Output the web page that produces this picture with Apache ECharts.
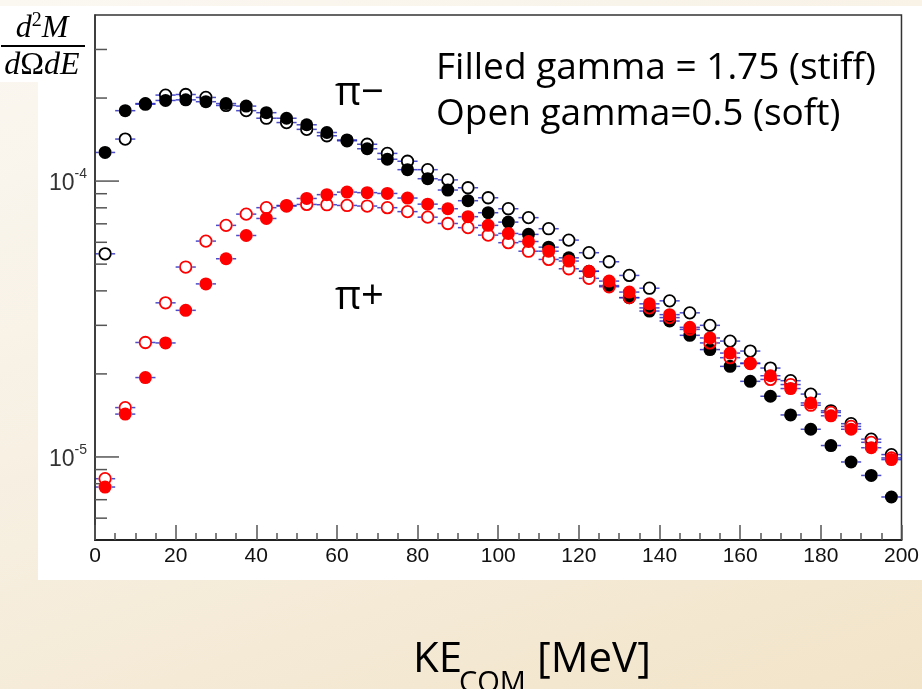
<!DOCTYPE html>
<html>
<head>
<meta charset="utf-8">
<script src="https://cdn.jsdelivr.net/npm/echarts@6.0.0/dist/echarts.min.js"></script>
<style>
  html, body { margin: 0; padding: 0; }
  body {
    width: 922px; height: 689px; overflow: hidden;
    background: linear-gradient(160deg, #fbf8f2 0%, #f7f0e3 45%, #f2e4c9 100%);
  }
  #chart { width: 922px; height: 689px; }
</style>
</head>
<body>
<div id="chart"></div>
<script>
// Kinetic energy bin centres (MeV), bins 5 MeV wide
const energy = [2.5, 7.5, 12.5, 17.5, 22.5, 27.5, 32.5, 37.5, 42.5, 47.5,
  52.5, 57.5, 62.5, 67.5, 72.5, 77.5, 82.5, 87.5, 92.5, 97.5,
  102.5, 107.5, 112.5, 117.5, 122.5, 127.5, 132.5, 137.5, 142.5, 147.5,
  152.5, 157.5, 162.5, 167.5, 172.5, 177.5, 182.5, 187.5, 192.5, 197.5];
const binHalfWidth = 2.5;

// pi- spectra: filled = stiff (gamma 1.75), open = soft (gamma 0.5)
const piMinusStiff = [1.27e-4, 1.80e-4, 1.91e-4, 1.96e-4, 1.97e-4, 1.94e-4, 1.91e-4, 1.87e-4, 1.77e-4, 1.69e-4,
  1.60e-4, 1.50e-4, 1.41e-4, 1.31e-4, 1.20e-4, 1.10e-4, 1.02e-4, 9.28e-5, 8.49e-5, 7.68e-5,
  7.10e-5, 6.41e-5, 5.76e-5, 5.27e-5, 4.71e-5, 4.18e-5, 3.78e-5, 3.38e-5, 3.11e-5, 2.76e-5,
  2.45e-5, 2.13e-5, 1.88e-5, 1.66e-5, 1.42e-5, 1.26e-5, 1.10e-5, 9.59e-6, 8.57e-6, 7.16e-6];
const piMinusSoft = [5.45e-5, 1.42e-4, 1.90e-4, 2.05e-4, 2.06e-4, 2.01e-4, 1.88e-4, 1.80e-4, 1.69e-4, 1.63e-4,
  1.54e-4, 1.46e-4, 1.40e-4, 1.36e-4, 1.26e-4, 1.18e-4, 1.10e-4, 1.01e-4, 9.46e-5, 8.70e-5,
  7.94e-5, 7.37e-5, 6.72e-5, 6.11e-5, 5.50e-5, 5.10e-5, 4.55e-5, 4.09e-5, 3.68e-5, 3.33e-5,
  3.00e-5, 2.63e-5, 2.42e-5, 2.10e-5, 1.89e-5, 1.69e-5, 1.47e-5, 1.32e-5, 1.16e-5, 1.02e-5];

// pi+ spectra
const piPlusStiff = [7.78e-6, 1.43e-5, 1.94e-5, 2.59e-5, 3.40e-5, 4.24e-5, 5.23e-5, 6.35e-5, 7.32e-5, 8.16e-5,
  8.65e-5, 8.93e-5, 9.12e-5, 9.08e-5, 9.02e-5, 8.68e-5, 8.25e-5, 7.94e-5, 7.43e-5, 6.91e-5,
  6.46e-5, 6.04e-5, 5.57e-5, 5.13e-5, 4.71e-5, 4.34e-5, 3.96e-5, 3.59e-5, 3.28e-5, 2.95e-5,
  2.70e-5, 2.38e-5, 2.19e-5, 1.97e-5, 1.77e-5, 1.57e-5, 1.41e-5, 1.26e-5, 1.08e-5, 9.78e-6];
const piPlusSoft = [8.34e-6, 1.51e-5, 2.60e-5, 3.62e-5, 4.88e-5, 6.06e-5, 6.91e-5, 7.59e-5, 8.01e-5, 8.12e-5,
  8.23e-5, 8.21e-5, 8.16e-5, 8.12e-5, 8.01e-5, 7.75e-5, 7.40e-5, 7.02e-5, 6.78e-5, 6.37e-5,
  5.98e-5, 5.57e-5, 5.20e-5, 4.81e-5, 4.44e-5, 4.14e-5, 3.78e-5, 3.47e-5, 3.20e-5, 2.90e-5,
  2.59e-5, 2.29e-5, 2.18e-5, 1.91e-5, 1.83e-5, 1.54e-5, 1.45e-5, 1.29e-5, 1.13e-5, 9.92e-6];

// Axis ranges and log-axis tick positions
const xRange = [0, 200];
const yRange = [5e-6, 4e-4];
const yMajorTicks = [1e-5, 1e-4];
const yMinorTicks = [6e-6, 7e-6, 8e-6, 9e-6,
  2e-5, 3e-5, 4e-5, 5e-5, 6e-5, 7e-5, 8e-5, 9e-5,
  2e-4, 3e-4];

const MARKER = 13;
const pairs = ys => energy.map((e, i) => [e, ys[i]]);

// horizontal bin-width error bars, with a gap where the marker sits
function errorBarSeries(ys) {
  return {
    type: 'custom',
    coordinateSystem: 'cartesian2d',
    z: 2,
    silent: true,
    clip: true,
    data: pairs(ys),
    renderItem: function (params, api) {
      const x = api.value(0), y = api.value(1);
      const l = api.coord([x - binHalfWidth, y]);
      const c = api.coord([x, y]);
      const r = api.coord([x + binHalfWidth, y]);
      const gap = MARKER / 2;
      const st = { stroke: 'rgba(30,30,190,0.8)', lineWidth: 1.5 };
      return {
        type: 'group',
        children: [
          { type: 'line', shape: { x1: l[0], y1: l[1], x2: c[0] - gap, y2: c[1] }, style: st },
          { type: 'line', shape: { x1: c[0] + gap, y1: c[1], x2: r[0], y2: r[1] }, style: st }
        ]
      };
    }
  };
}

// inward ticks on the log axis at 1..9 x 10^n
function tickSeries(values, len) {
  return {
    type: 'custom',
    coordinateSystem: 'cartesian2d',
    z: 1,
    silent: true,
    clip: false,
    data: values.map(v => [xRange[0], v]),
    renderItem: function (params, api) {
      const p = api.coord([api.value(0), api.value(1)]);
      return {
        type: 'line',
        shape: { x1: p[0], y1: p[1], x2: p[0] + len, y2: p[1] },
        style: { stroke: '#555', lineWidth: 1.5 }
      };
    }
  };
}

function markerSeries(ys, color, filled) {
  return {
    type: 'scatter',
    z: 3,
    silent: true,
    symbol: 'circle',
    symbolSize: filled ? MARKER : MARKER - 1.5,
    data: pairs(ys),
    itemStyle: filled
      ? { color: color, opacity: 1 }
      : { color: 'rgba(255,255,255,0)', borderColor: color, borderWidth: 1.8, opacity: 1 }
  };
}

const chart = echarts.init(document.getElementById('chart'), null, { renderer: 'canvas' });

const sansText = '"Open Sans", "Noto Sans", sans-serif';
const serifText = '"Liberation Serif", "DejaVu Serif", serif';
const axisFont = '"Liberation Sans", Arial, sans-serif';

chart.setOption({
  animation: false,
  grid: {
    left: 95, right: 19, top: 15, bottom: 149,
    show: true, backgroundColor: '#ffffff',
    borderColor: '#333', borderWidth: 1.5
  },
  xAxis: {
    type: 'value',
    min: xRange[0], max: xRange[1], interval: 20,
    axisLine: { lineStyle: { color: '#222', width: 2 } },
    axisTick: { inside: true, length: 15, lineStyle: { color: '#555', width: 1.5 } },
    minorTick: { show: true, splitNumber: 4, length: 7, lineStyle: { color: '#555', width: 1.5 } },
    splitLine: { show: false },
    axisLabel: { margin: 6, fontSize: 21, color: '#111', fontFamily: axisFont }
  },
  yAxis: {
    type: 'log', logBase: 10,
    min: yRange[0], max: yRange[1],
    axisLine: { show: true, lineStyle: { color: '#333', width: 1.5 } },
    axisTick: { show: false },
    splitLine: { show: false },
    axisLabel: {
      margin: 8,
      showMinLabel: false, showMaxLabel: false,
      formatter: function (v) {
        const e = Math.log10(v);
        const r = Math.round(e);
        if (Math.abs(e - r) > 1e-6) return '';
        return '{b|10}{s|' + r + '}';
      },
      rich: {
        b: { fontSize: 23, color: '#333', fontFamily: axisFont, lineHeight: 28, verticalAlign: 'bottom' },
        s: { fontSize: 14, color: '#333', fontFamily: axisFont, lineHeight: 15, verticalAlign: 'top' }
      }
    }
  },
  graphic: [
    // white panels behind the plot and the axis title
    { type: 'rect', z: -10, shape: { x: 38, y: 6, width: 884, height: 574 }, style: { fill: '#ffffff' } },
    { type: 'rect', z: -10, shape: { x: 0, y: 6, width: 92, height: 76 }, style: { fill: '#ffffff' } },
    // d^2M / dOmega dE
    {
      type: 'text', z: 100, x: 42, y: 28,
      style: {
        text: '{i|d}{u|2}{i|M}', align: 'center', verticalAlign: 'middle',
        rich: {
          i: { fontSize: 32, fontStyle: 'italic', fontFamily: serifText, fill: '#000', lineHeight: 34, verticalAlign: 'bottom' },
          u: { fontSize: 20, fontFamily: serifText, fill: '#000', lineHeight: 20, verticalAlign: 'top' }
        }
      }
    },
    { type: 'line', z: 100, shape: { x1: 1, y1: 46, x2: 85, y2: 46 }, style: { stroke: '#000', lineWidth: 2 } },
    {
      type: 'text', z: 100, x: 42, y: 66,
      style: {
        text: '{i|d}{r|Ω}{i|dE}', align: 'center', verticalAlign: 'middle',
        rich: {
          i: { fontSize: 32, fontStyle: 'italic', fontFamily: serifText, fill: '#000' },
          r: { fontSize: 32, fontFamily: serifText, fill: '#000' }
        }
      }
    },
    // annotations
    { type: 'text', z: 100, x: 436, y: 68, style: { text: 'Filled gamma = 1.75 (stiff)', font: '37px ' + sansText, fill: '#000', align: 'left', verticalAlign: 'middle' } },
    { type: 'text', z: 100, x: 436, y: 114, style: { text: 'Open gamma=0.5 (soft)', font: '37px ' + sansText, fill: '#000', align: 'left', verticalAlign: 'middle' } },
    { type: 'text', z: 100, x: 335, y: 94, style: { text: 'π−', font: '40px ' + sansText, fill: '#000', align: 'left', verticalAlign: 'middle' } },
    { type: 'text', z: 100, x: 335, y: 298, style: { text: 'π+', font: '40px ' + sansText, fill: '#000', align: 'left', verticalAlign: 'middle' } },
    // KE_COM [MeV]
    { type: 'text', z: 100, x: 413, y: 660, style: { text: 'KE', font: '42px ' + sansText, fill: '#000', align: 'left', verticalAlign: 'middle' } },
    { type: 'text', z: 100, x: 459, y: 684, style: { text: 'COM', font: '29px ' + sansText, fill: '#000', align: 'left', verticalAlign: 'middle' } },
    { type: 'text', z: 100, x: 537, y: 660, style: { text: '[MeV]', font: '42px ' + sansText, fill: '#000', align: 'left', verticalAlign: 'middle' } }
  ],
  series: [
    tickSeries(yMinorTicks, 12),
    tickSeries(yMajorTicks, 24),
    errorBarSeries(piMinusSoft),
    errorBarSeries(piMinusStiff),
    errorBarSeries(piPlusSoft),
    errorBarSeries(piPlusStiff),
    markerSeries(piMinusSoft, '#000000', false),
    markerSeries(piMinusStiff, '#000000', true),
    markerSeries(piPlusSoft, '#ff0000', false),
    markerSeries(piPlusStiff, '#ff0000', true)
  ]
});
</script>
</body>
</html>
